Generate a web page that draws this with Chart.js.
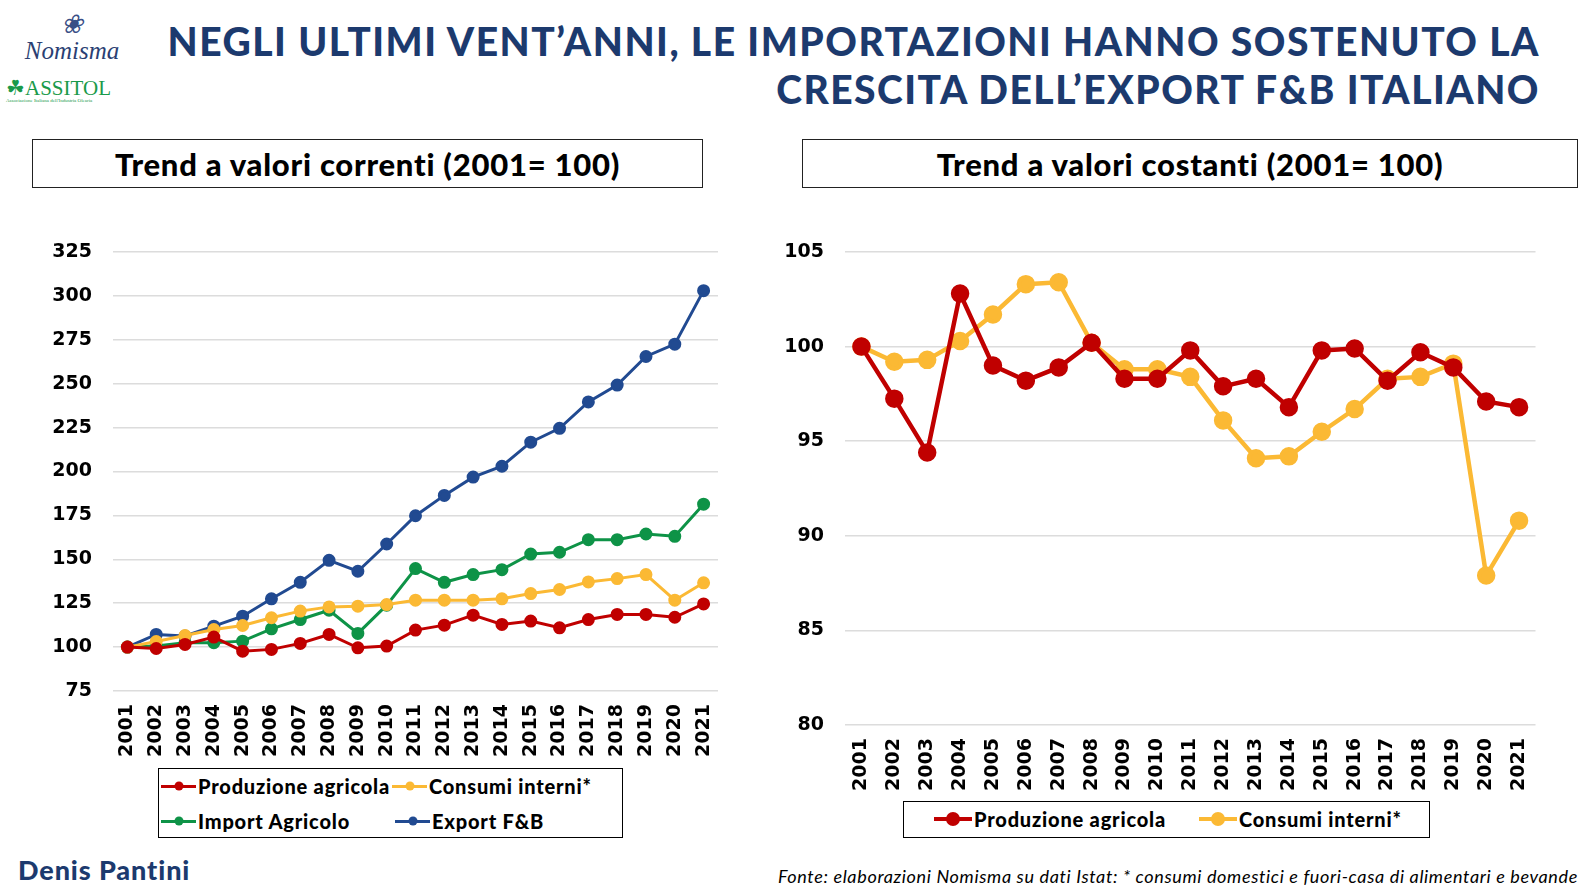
<!DOCTYPE html>
<html>
<head>
<meta charset="utf-8">
<script src="https://cdn.jsdelivr.net/npm/chart.js@4.4.1/dist/chart.umd.min.js"></script>
<style>
  html, body { margin: 0; background: #fff; font-family: Lato, "Noto Sans", sans-serif; overflow: hidden; }
  #page { position: relative; width: 1596px; height: 892px; overflow: hidden; }
  .abs { position: absolute; }
  #title { right: 56px; top: 17px; text-align: right; color: #1c3a6e; font-weight: 900;
           font-size: 39px; line-height: 48px; letter-spacing: 1.5px; white-space: nowrap; }
  .box { border: 1.5px solid #222; box-sizing: border-box; display: flex; align-items: center;
         justify-content: center; font-weight: 900; font-size: 31px; letter-spacing: 0.75px; color: #000; }
  .legend { border: 1px solid #000; box-sizing: border-box; font-weight: 900; font-size: 20px;
            letter-spacing: 0.8px; color: #000; }
  .item { position: absolute; display: flex; align-items: center; white-space: nowrap; height: 24px; }
  .mk { position: relative; display: inline-block; margin-right: 2px; }
  .mk i { position: absolute; left: 50%; top: 50%; border-radius: 50%; transform: translate(-50%, -50%); }
  #author { left: 18px; top: 853px; color: #1c3a6e; font-weight: 900; font-size: 27px; letter-spacing: 0.9px; }
  #source { right: 18px; top: 865px; font-style: italic; font-size: 18px; letter-spacing: 0.65px; color: #000; white-space: nowrap; }
  #logo1 { left: 22px; top: 12px; width: 100px; text-align: center; font-family: "Liberation Serif", serif;
           font-style: italic; color: #2b3f73; font-size: 25px; line-height: 26px; }
  #logo1 span { display: block; font-size: 26px; color: #3a4f86; }
  #logo2 { left: 6px; top: 76px; font-family: "Liberation Serif", serif; color: #1a9a4a; font-size: 21px; }
  #logo2 small { display: block; font-size: 5px; color: #1a9a4a; margin-top: -3px; }
</style>
</head>
<body>
<div id="page">
  <div id="logo1" class="abs"><span>&#10048;</span>Nomisma</div>
  <div id="logo2" class="abs">&#9752;ASSITOL<small>Associazione Italiana dell'Industria Olearia</small></div>
  <div id="title" class="abs">NEGLI ULTIMI VENT’ANNI, LE IMPORTAZIONI HANNO SOSTENUTO LA<br>CRESCITA DELL’EXPORT F&amp;B ITALIANO</div>

  <div class="abs box" style="left:32px;top:139px;width:671px;height:49px;">Trend a valori correnti (2001= 100)</div>
  <div class="abs box" style="left:802px;top:139px;width:776px;height:49px;">Trend a valori costanti (2001= 100)</div>

  <div class="abs" style="left:40px;top:238px;width:686px;height:523px;"><canvas id="left"></canvas></div>
  <div class="abs" style="left:769px;top:238px;width:778px;height:557px;"><canvas id="right"></canvas></div>

  <div id="legLeft" class="abs legend" style="left:158px;top:768px;width:465px;height:70px;"></div>
  <div id="legRight" class="abs legend" style="left:903px;top:801px;width:527px;height:37px;"></div>

  <div id="author" class="abs">Denis Pantini</div>
  <div id="source" class="abs">Fonte: elaborazioni Nomisma su dati Istat: * consumi domestici e fuori-casa di alimentari e bevande</div>
</div>

<script>
var years = ['2001','2002','2003','2004','2005','2006','2007','2008','2009','2010','2011',
             '2012','2013','2014','2015','2016','2017','2018','2019','2020','2021'];

// valori correnti (2001 = 100)
var produzioneCorr = [100, 99.2, 101.5, 105.7, 97.7, 98.7, 102.1, 107.2, 99.6, 100.6, 109.7,
                      112.5, 118.2, 112.9, 114.8, 111.0, 115.7, 118.6, 118.6, 117.0, 124.6];
var consumiCorr    = [100, 103.2, 106.6, 110.0, 112.3, 116.7, 120.5, 122.9, 123.3, 124.2, 126.7,
                      126.7, 126.7, 127.5, 130.5, 132.8, 137.1, 139.0, 141.3, 126.7, 136.6];
var importCorr     = [100, 100.6, 102.5, 102.5, 103.4, 110.4, 115.7, 121.0, 107.8, 123.9, 144.7,
                      136.9, 141.3, 144.1, 153.0, 154.0, 161.2, 161.2, 164.4, 163.1, 181.4];
var exportCorr     = [100, 107.2, 106.3, 111.9, 117.6, 127.5, 136.9, 149.4, 143.2, 158.7, 174.8,
                      186.4, 196.8, 203.0, 216.7, 224.6, 239.6, 249.2, 265.5, 272.5, 303.0];

// valori costanti (2001 = 100)
var produzioneCost = [100, 97.25, 94.4, 102.8, 99.0, 98.2, 98.9, 100.2, 98.3, 98.3, 99.8,
                      97.9, 98.3, 96.8, 99.8, 99.9, 98.2, 99.7, 98.9, 97.1, 96.8];
var consumiCost    = [100, 99.2, 99.3, 100.3, 101.7, 103.3, 103.4, 100.2, 98.8, 98.8, 98.4,
                      96.1, 94.1, 94.2, 95.5, 96.7, 98.3, 98.4, 99.1, 87.9, 90.8];

var leftTicks = [75, 100, 125, 150, 175, 200, 225, 250, 275, 300, 325];
var rightTicks = [80, 85, 90, 95, 100, 105];

var RED = '#c00000', YELLOW = '#fbb934', GREEN = '#0e9347', BLUE = '#214a91';
var NUM_FONT = { family: '"DejaVu Sans"', weight: 'bold', size: 19 };

function ds(label, data, color, lw, r) {
  return {
    label: label, data: data, borderColor: color, backgroundColor: color,
    pointBackgroundColor: color, pointBorderColor: color,
    borderWidth: lw, pointRadius: r, pointHoverRadius: r, tension: 0
  };
}

function options(ticks, yWidth) {
  return {
    responsive: true,
    maintainAspectRatio: false,
    animation: false,
    layout: { padding: { top: 14, right: 6, left: 0, bottom: 0 } },
    plugins: { legend: { display: false }, tooltip: { enabled: false } },
    scales: {
      x: {
        offset: true,
        grid: { display: false, drawTicks: false },
        border: { display: false },
        ticks: { color: '#000', minRotation: 90, maxRotation: 90, padding: 13, font: NUM_FONT },
        afterFit: function (s) { s.height = 70; s.paddingLeft = 0; s.paddingRight = 0; }
      },
      y: {
        min: ticks[0], max: ticks[ticks.length - 1],
        afterBuildTicks: function (s) { s.ticks = ticks.map(function (v) { return { value: v }; }); },
        grid: { color: '#dcdcdc', lineWidth: 1.5, drawTicks: false },
        border: { display: false },
        ticks: { color: '#000', padding: 21, font: NUM_FONT },
        afterFit: function (s) { s.width = yWidth; s.paddingTop = 0; s.paddingBottom = 0; }
      }
    }
  };
}

var leftChart = new Chart(document.getElementById('left'), {
  type: 'line',
  data: {
    labels: years,
    datasets: [
      ds('Produzione agricola', produzioneCorr, RED, 3, 5),
      ds('Consumi interni*', consumiCorr, YELLOW, 3, 5),
      ds('Import Agricolo', importCorr, GREEN, 3, 5),
      ds('Export F&B', exportCorr, BLUE, 3, 5)
    ]
  },
  options: options(leftTicks, 73)
});

var rightChart = new Chart(document.getElementById('right'), {
  type: 'line',
  data: {
    labels: years,
    datasets: [
      ds('Produzione agricola', produzioneCost, RED, 4.5, 7),
      ds('Consumi interni*', consumiCost, YELLOW, 4.5, 7)
    ]
  },
  options: options(rightTicks, 76)
});

// legende HTML costruite dai dataset; pos = [x, y centro] relativi al riquadro
function buildLegend(el, chart, pos, mw, mh, dot) {
  chart.data.datasets.forEach(function (d, i) {
    var it = document.createElement('div');
    it.className = 'item';
    it.style.left = pos[i][0] + 'px';
    it.style.top = (pos[i][1] - 12) + 'px';
    var mk = document.createElement('span');
    mk.className = 'mk';
    mk.style.width = mw + 'px';
    mk.style.height = mh + 'px';
    mk.style.background = d.borderColor;
    var dot_ = document.createElement('i');
    dot_.style.width = dot_.style.height = dot + 'px';
    dot_.style.background = d.borderColor;
    mk.appendChild(dot_);
    it.appendChild(mk);
    it.appendChild(document.createTextNode(d.label));
    el.appendChild(it);
  });
}
buildLegend(document.getElementById('legLeft'), leftChart,
  [[2, 17], [233, 17], [2, 52], [236, 52]], 35, 3, 9);
buildLegend(document.getElementById('legRight'), rightChart,
  [[30, 17], [295, 17]], 38, 4, 14);
</script>
</body>
</html>
